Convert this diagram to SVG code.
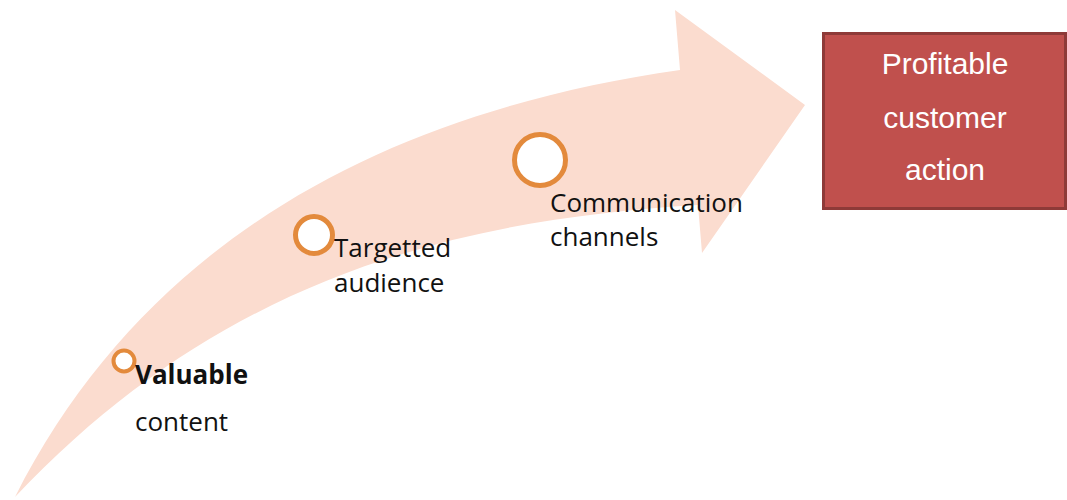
<svg xmlns="http://www.w3.org/2000/svg" width="1067" height="500" viewBox="0 0 1067 500">
<style>
.lbl{font-family:"Open Sans","Noto Sans",sans-serif;font-size:26px;fill:#111111}
.ring{fill:#ffffff;stroke:#E38A3C}
.box{fill:#C0504D;stroke:#8E3A38;stroke-width:3}
.btxt{font-family:"Liberation Sans",Arial,sans-serif;font-size:30px;fill:#ffffff;text-anchor:middle}
</style>
<g id="connectors">
<path id="arrow" d="M15,497 C150,230 400,110 680,70 L675,10 L805,105 L702,253 L698,205 C450,220 220,280 15,497 Z" fill="#FBDCCF"/>
</g>
<g id="node-valuable">
<circle class="ring" cx="124" cy="361" r="10.5" stroke-width="4"/>
<text class="lbl" x="135" y="384" font-weight="bold">Valuable</text>
<text class="lbl" x="135" y="431">content</text>
</g>
<g id="node-targetted">
<circle class="ring" cx="314" cy="235" r="18.5" stroke-width="5"/>
<text class="lbl" x="334" y="257">Targetted</text>
<text class="lbl" x="334" y="292">audience</text>
</g>
<g id="node-communication">
<circle class="ring" cx="540" cy="160" r="25.5" stroke-width="5"/>
<text class="lbl" x="550" y="212">Communication</text>
<text class="lbl" x="550" y="246">channels</text>
</g>
<g id="node-profitable">
<rect class="box" x="823.5" y="33.5" width="242" height="175"/>
<text class="btxt" x="945" y="74">Profitable</text>
<text class="btxt" x="945" y="128">customer</text>
<text class="btxt" x="945" y="180">action</text>
</g>
</svg>
